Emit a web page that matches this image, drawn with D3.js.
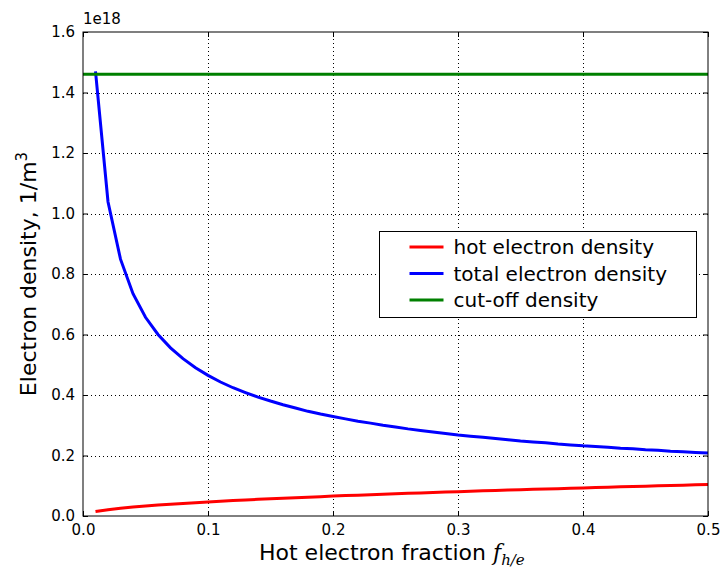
<!DOCTYPE html>
<html>
<head>
<meta charset="utf-8">
<script src="https://cdn.jsdelivr.net/npm/d3@7"></script>
<style>
  body { margin: 0; background: #fff; }
  text { font-family: "DejaVu Sans", sans-serif; fill: #000; }
</style>
</head>
<body>
<div id="chart"></div>
<script>
// hot electron fraction
var fraction = [0.01, 0.02, 0.03, 0.04, 0.05, 0.06, 0.07, 0.08, 0.09, 0.10,
  0.11, 0.12, 0.13, 0.14, 0.15, 0.16, 0.17, 0.18, 0.19, 0.20,
  0.21, 0.22, 0.23, 0.24, 0.25, 0.26, 0.27, 0.28, 0.29, 0.30,
  0.31, 0.32, 0.33, 0.34, 0.35, 0.36, 0.37, 0.38, 0.39, 0.40,
  0.41, 0.42, 0.43, 0.44, 0.45, 0.46, 0.47, 0.48, 0.49, 0.50];
// densities in units of 1e18 / m^3
var hotDensity = [0.0147, 0.0208, 0.0255, 0.0294, 0.0329, 0.0360, 0.0389, 0.0416, 0.0441, 0.0465,
  0.0487, 0.0509, 0.0530, 0.0550, 0.0570, 0.0589, 0.0607, 0.0623, 0.0640, 0.0658,
  0.0674, 0.0689, 0.0706, 0.0720, 0.0735, 0.0749, 0.0764, 0.0778, 0.0792, 0.0804,
  0.0818, 0.0832, 0.0845, 0.0857, 0.0868, 0.0882, 0.0895, 0.0904, 0.0917, 0.0928,
  0.0943, 0.0953, 0.0963, 0.0977, 0.0986, 0.0998, 0.1006, 0.1018, 0.1029, 0.1040];
var totalDensity = [1.470, 1.039, 0.849, 0.735, 0.657, 0.600, 0.556, 0.520, 0.490, 0.465,
  0.443, 0.424, 0.408, 0.393, 0.380, 0.368, 0.357, 0.346, 0.337, 0.329,
  0.321, 0.313, 0.307, 0.300, 0.294, 0.288, 0.283, 0.278, 0.273, 0.268,
  0.264, 0.260, 0.256, 0.252, 0.248, 0.245, 0.242, 0.238, 0.235, 0.232,
  0.230, 0.227, 0.224, 0.222, 0.219, 0.217, 0.214, 0.212, 0.210, 0.208];
var cutoffDensity = 1.46;
var xTicks = [0.0, 0.1, 0.2, 0.3, 0.4, 0.5];
var yTicks = [0.0, 0.2, 0.4, 0.6, 0.8, 1.0, 1.2, 1.4, 1.6];
var seriesNames = ["hot electron density", "total electron density", "cut-off density"];
var seriesColors = ["#ff0000", "#0000ff", "#008000"];

var width = 721, height = 568;
var margin = {left: 83, right: 13, top: 32, bottom: 52};

var svg = d3.select("#chart").append("svg")
  .attr("width", width).attr("height", height);

var x = d3.scaleLinear().domain([0, 0.5]).range([margin.left, width - margin.right]);
var y = d3.scaleLinear().domain([0, 1.6]).range([height - margin.bottom, margin.top]);

// grid
var grid = svg.append("g").attr("stroke", "#000").attr("stroke-width", 1)
  .attr("stroke-dasharray", "1,3");
grid.selectAll(".gx").data(xTicks.slice(1, -1)).enter().append("line")
  .attr("x1", function (d) { return Math.round(x(d)) + 0.5; })
  .attr("x2", function (d) { return Math.round(x(d)) + 0.5; })
  .attr("y1", y(0)).attr("y2", y(1.6));
grid.selectAll(".gy").data(yTicks.slice(1, -1)).enter().append("line")
  .attr("y1", function (d) { return Math.round(y(d)) + 0.5; })
  .attr("y2", function (d) { return Math.round(y(d)) + 0.5; })
  .attr("x1", x(0)).attr("x2", x(0.5));

// lines
var line = d3.line()
  .x(function (d) { return x(d[0]); })
  .y(function (d) { return y(d[1]); });

svg.append("path")
  .datum(fraction.map(function (f, i) { return [f, hotDensity[i]]; }))
  .attr("d", line).attr("fill", "none")
  .attr("stroke", seriesColors[0]).attr("stroke-width", 3);
svg.append("path")
  .datum(fraction.map(function (f, i) { return [f, totalDensity[i]]; }))
  .attr("d", line).attr("fill", "none")
  .attr("stroke", seriesColors[1]).attr("stroke-width", 3);
svg.append("path")
  .datum([[0, cutoffDensity], [0.5, cutoffDensity]])
  .attr("d", line).attr("fill", "none")
  .attr("stroke", seriesColors[2]).attr("stroke-width", 3);

// axes, ticks pointing inward, on all four sides
var axB = d3.axisBottom(x).tickValues(xTicks).tickFormat(d3.format(".1f")).tickSizeInner(-5).tickSizeOuter(0).tickPadding(8);
var axT = d3.axisTop(x).tickValues(xTicks).tickFormat("").tickSizeInner(-5).tickSizeOuter(0);
var axL = d3.axisLeft(y).tickValues(yTicks).tickFormat(d3.format(".1f")).tickSizeInner(-5).tickSizeOuter(0).tickPadding(8);
var axR = d3.axisRight(y).tickValues(yTicks).tickFormat("").tickSizeInner(-5).tickSizeOuter(0);

function style(g) {
  g.select(".domain").remove();
  g.selectAll("line").attr("stroke", "#000");
  g.selectAll("text").attr("font-size", 15).attr("fill", "#000")
    .attr("font-family", "DejaVu Sans, sans-serif");
}
svg.append("g").attr("transform", "translate(0," + y(0) + ")").call(axB).call(style);
svg.append("g").attr("transform", "translate(0," + y(1.6) + ")").call(axT).call(style);
svg.append("g").attr("transform", "translate(" + x(0) + ",0)").call(axL).call(style);
svg.append("g").attr("transform", "translate(" + x(0.5) + ",0)").call(axR).call(style);

// frame
svg.append("rect")
  .attr("x", x(0)).attr("y", y(1.6))
  .attr("width", x(0.5) - x(0)).attr("height", y(0) - y(1.6))
  .attr("fill", "none").attr("stroke", "#000").attr("stroke-width", 1);

// offset text
svg.append("text").attr("x", x(0)).attr("y", 24).attr("font-size", 15).text("1e18");

// axis labels
var xl = svg.append("text").attr("x", 259).attr("y", 560).attr("font-size", 22);
xl.append("tspan").text("Hot electron fraction ");
xl.append("tspan").attr("font-family", "DejaVu Serif, serif").attr("font-style", "italic").text("f");
xl.append("tspan").attr("font-family", "DejaVu Serif, serif").attr("font-style", "italic")
  .attr("font-size", 15).attr("dy", 5).text("h/e");

var yl = svg.append("text")
  .attr("transform", "translate(36," + ((y(0) + y(1.6)) / 2) + ") rotate(-90)")
  .attr("text-anchor", "middle").attr("font-size", 22);
yl.append("tspan").text("Electron density, 1/m");
yl.append("tspan").attr("font-size", 15).attr("dy", -9).text("3");

// legend
var lg = svg.append("g").attr("transform", "translate(379.5,231.5)");
lg.append("rect").attr("width", 317).attr("height", 86)
  .attr("fill", "#fff").attr("stroke", "#000").attr("stroke-width", 1);
seriesNames.forEach(function (name, i) {
  var yy = 15.5 + i * 26.5;
  lg.append("line").attr("x1", 30).attr("x2", 64).attr("y1", yy).attr("y2", yy)
    .attr("stroke", seriesColors[i]).attr("stroke-width", 3);
  lg.append("text").attr("x", 74).attr("y", yy + 7).attr("font-size", 20).text(name);
});
</script>
</body>
</html>
